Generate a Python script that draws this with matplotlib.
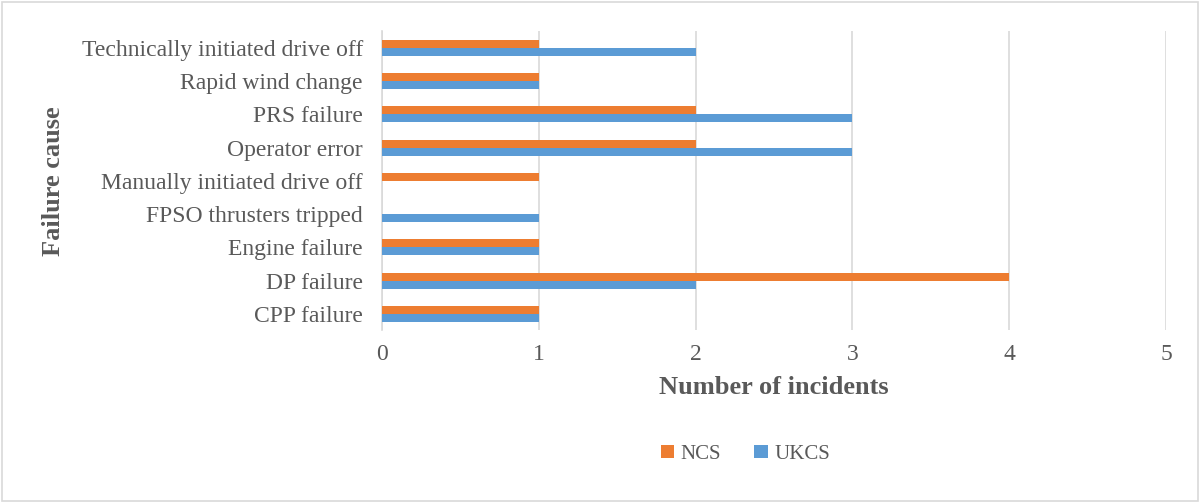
import numpy as np
import matplotlib.pyplot as plt
from matplotlib.patches import Rectangle

plt.rcParams['font.family'] = ['Liberation Serif', 'DejaVu Serif']

# 数据
causes = ['CPP failure', 'DP failure', 'Engine failure', 'FPSO thrusters tripped',
          'Manually initiated drive off', 'Operator error', 'PRS failure',
          'Rapid wind change', 'Technically initiated drive off']
ncs = [1, 4, 1, 0, 1, 2, 2, 1, 1]
ukcs = [1, 2, 1, 1, 0, 3, 3, 1, 2]

c_ncs = '#ed7d31'
c_ukcs = '#5b9bd5'
txt = '#595959'

fig = plt.figure(figsize=(12.02, 5.03), dpi=100)
ax = fig.add_axes([0.318, 0.343, 0.652, 0.595])

y = np.arange(len(causes))
h = 0.24
ax.barh(y + h / 2, ncs, height=h, color=c_ncs, label='NCS', zorder=3)
ax.barh(y - h / 2, ukcs, height=h, color=c_ukcs, label='UKCS', zorder=3)

ax.set_xlim(0, 5)
ax.set_ylim(-0.5, len(causes) - 0.5)
ax.set_xticks(range(6))
ax.set_yticks(y)
ax.set_yticklabels(causes)
ax.grid(axis='x', color='#d9d9d9', linewidth=1.2, zorder=0)
for s in ['top', 'right', 'bottom']:
    ax.spines[s].set_visible(False)
ax.spines['left'].set_color('#d9d9d9')
ax.spines['left'].set_linewidth(1.2)
ax.tick_params(axis='both', length=0, labelsize=17, labelcolor=txt)
ax.tick_params(axis='x', pad=10)
ax.tick_params(axis='y', pad=14)

ax.set_xlabel('Number of incidents', fontsize=19, fontweight='bold', color=txt, labelpad=8)
ax.set_ylabel('Failure cause', fontsize=19, fontweight='bold', color=txt)
ax.yaxis.set_label_coords(-0.405, 0.5)

fig.legend(loc='center', bbox_to_anchor=(0.62, 0.097), ncol=2, frameon=False,
           fontsize=15, handlelength=0.65, handleheight=0.65, columnspacing=1.6,
           handletextpad=0.3, labelcolor=txt)

fig.patches.append(Rectangle((0.002, 0.003), 0.995, 0.993, transform=fig.transFigure,
                             fill=False, edgecolor='#d9d9d9', linewidth=1.2))

fig.savefig('out.png', dpi=100)
